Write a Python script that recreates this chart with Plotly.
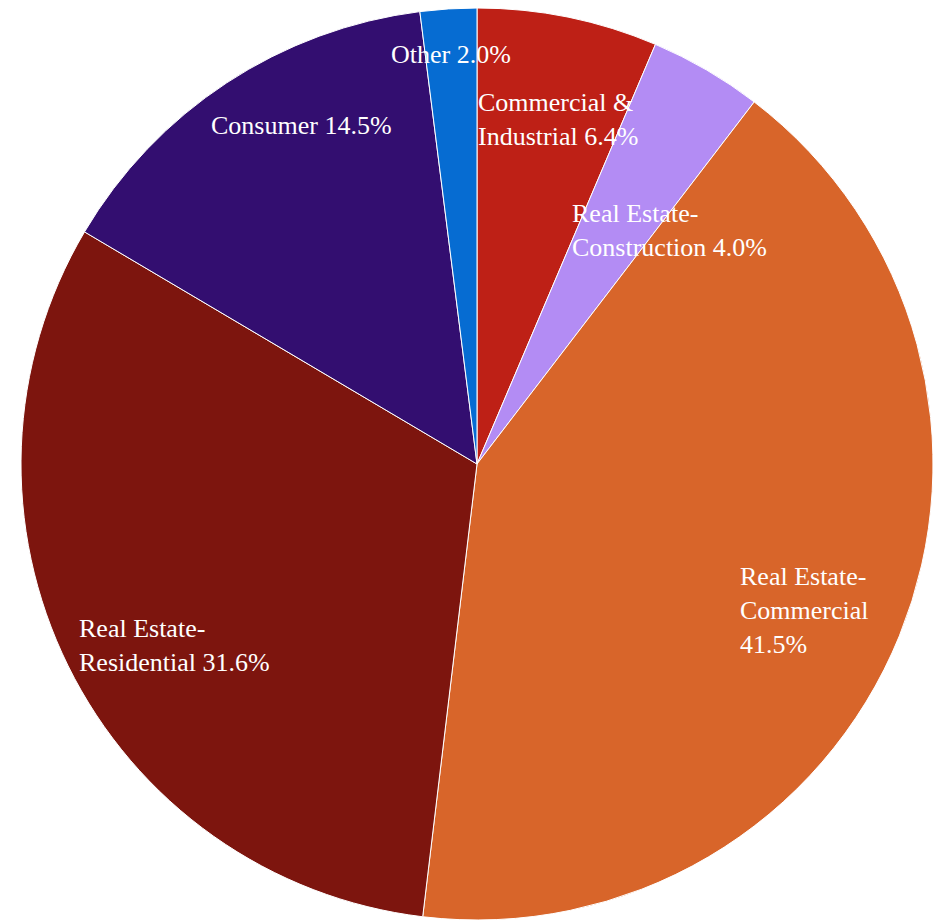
import math
import plotly.graph_objects as go

# ---- data ----
categories = ["Commercial &<br>Industrial", "Real Estate-<br>Construction", "Real Estate-<br>Commercial<br>",
              "Real Estate-<br>Residential", "Consumer", "Other"]
names = ["Commercial & Industrial", "Real Estate-Construction", "Real Estate-Commercial",
         "Real Estate-Residential", "Consumer", "Other"]
values = [6.4, 4.0, 41.5, 31.6, 14.5, 2.0]

# ---- style ----
colors = ["#BE2016", "#B38CF4", "#D8652A", "#7D150E", "#330E70", "#066CD2"]
label_radius = [0.777, 0.664, 0.786, 0.773, 0.836, 0.90]   # fraction of pie radius
label_angle_shift = [1.7, 9.3, 2.0, -4.7, 5.9, 0.0]          # degrees, clockwise
W, H = 936, 915            # page body adds an 8px margin
ML, MR, MT, MB = 13, 11, 0, 3
FONT = "Liberation Serif, Times New Roman, serif"

fig = go.Figure(go.Pie(
    labels=names,
    values=values,
    sort=False,
    direction="clockwise",
    rotation=0,
    marker=dict(colors=colors, line=dict(color="white", width=1)),
    textinfo="none",
    hoverinfo="label+percent",
    showlegend=False,
))

pw, ph = W - ML - MR, H - MT - MB
R = min(pw, ph) / 2.0
total = sum(values)
cum = 0.0
annotations = []
for cat, v, rf, sh in zip(categories, values, label_radius, label_angle_shift):
    mid = (cum + v / 2.0) / total * 360.0 + sh
    cum += v
    a = math.radians(mid)
    dx = rf * R * math.sin(a)
    dy = rf * R * math.cos(a)
    sep = "" if cat.endswith("<br>") else " "
    annotations.append(dict(
        x=0.5 + dx / pw, y=0.5 + dy / ph, xref="paper", yref="paper",
        text=f"{cat}{sep}{v:.1f}%", showarrow=False, align="left",
        xanchor="center", yanchor="middle",
        font=dict(family=FONT, size=26, color="white"),
    ))

fig.update_layout(
    width=W, height=H,
    margin=dict(l=ML, r=MR, t=MT, b=MB),
    paper_bgcolor="white", plot_bgcolor="white",
    annotations=annotations,
)
fig.write_html("out.html")
